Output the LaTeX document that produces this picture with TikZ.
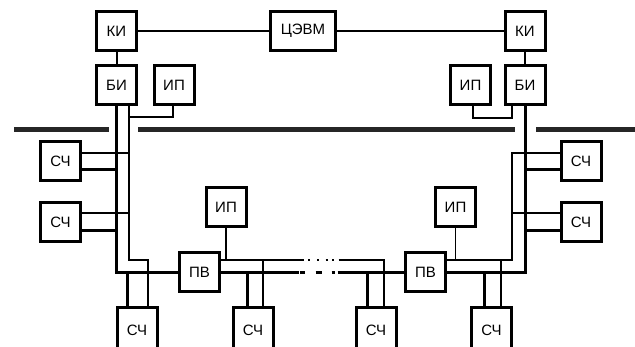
\documentclass[tikz,border=0pt]{standalone}
\usepackage{fontspec}
\setmainfont{Liberation Sans}
\usetikzlibrary{calc}
\begin{document}
\begin{tikzpicture}[x=1pt,y=-1pt,
 box/.style={draw,line width=3pt,inner sep=0pt,minimum width=40pt,minimum height=39pt,font=\fontsize{15}{15}\selectfont},
 cutbox/.style={box,minimum height=45pt},
 thickw/.style={line width=3pt},
 thinw/.style={line width=1.2pt},
 medw/.style={line width=2pt},
 sepline/.style={line width=5pt,black!85}]
\useasboundingbox (0,0) rectangle (635,347);
\clip (0,0) rectangle (635,347);
% nodes
\node[box] (ki1) at (116.5,31) {КИ};
\node[box,minimum width=65pt] (cevm) at (303,31) {ЦЭВМ};
\node[box] (ki2) at (525,31) {КИ};
\node[box] (bi1) at (116.5,85) {БИ};
\node[box] (ip1) at (174,85) {ИП};
\node[box] (ip2) at (470.5,85) {ИП};
\node[box] (bi2) at (525,85) {БИ};
\node[box] (sc1) at (60.5,161.5) {СЧ};
\node[box] (sc2) at (60.5,222) {СЧ};
\node[box] (sc3) at (581,161.5) {СЧ};
\node[box] (sc4) at (581,222) {СЧ};
\node[box] (ip3) at (226,207.5) {ИП};
\node[box] (ip4) at (455.5,207.5) {ИП};
\node[box] (pv1) at (199.5,272.5) {ПВ};
\node[box] (pv2) at (425.5,272.5) {ПВ};
\node[cutbox] (sc5) at (137,330) {СЧ};
\node[cutbox] (sc6) at (253,330) {СЧ};
\node[cutbox] (sc7) at (376,330) {СЧ};
\node[cutbox] (sc8) at (491.5,330) {СЧ};
% separators
\draw[sepline] (14,129.5) -- (109,129.5);
\draw[sepline] (138,129.5) -- (515,129.5);
\draw[sepline] (536,129.5) -- (635,129.5);
% coordinates
\coordinate (L1) at (129,260);
\coordinate (L2) at (148,260);
\coordinate (P1) at (173,117);
\coordinate (P1b) at (129,117);
\coordinate (s1t) at (129,153);
\coordinate (s1k) at (116.5,170);
\coordinate (s2t) at (129,213);
\coordinate (s2k) at (116.5,231);
\coordinate (s5k) at (127,272.5);
\coordinate (M1) at (384,260);
\coordinate (s6k) at (247,272.5);
\coordinate (s6t) at (263,260);
\coordinate (s7k) at (367,272.5);
\coordinate (R1) at (512,260);
\coordinate (R2) at (512,153);
\coordinate (s3k) at (525,170);
\coordinate (s4t) at (512,213);
\coordinate (s4k) at (525,231);
\coordinate (s8k) at (484,272.5);
\coordinate (s8t) at (501,260);
\coordinate (P2) at (473,118);
\coordinate (P2b) at (512,118);
% top connectors
\draw[medw] (ki1) -- (cevm);
\draw[medw] (cevm) -- (ki2);
\draw[medw] (ki1) -- (bi1);
\draw[medw] (ki2) -- (bi2);
% thick buses
\draw[thickw] (bi1.south) |- (pv1.west);
\draw[thickw] (bi2.south) |- (pv2.east);
\draw[thickw,dash pattern=on 77.5pt off 1pt on 5pt off 11pt on 6pt off 10pt on 3pt off 3pt on 200pt] (pv1.east) -- (pv2.west);
\draw[thickw] (sc1.east |- s1k) -- (s1k);
\draw[thickw] (sc2.east |- s2k) -- (s2k);
\draw[thickw] (sc3.west |- s3k) -- (s3k);
\draw[thickw] (sc4.west |- s4k) -- (s4k);
\draw[thickw] (s5k) -- (sc5.north -| s5k);
\draw[thickw] (s6k) -- (sc6.north -| s6k);
\draw[thickw] (s7k) -- (sc7.north -| s7k);
\draw[thickw] (s8k) -- (sc8.north -| s8k);
% thin buses
\draw[thinw] (bi1.south -| L1) -- (L1) -- (L2) -- (sc5.north -| L2);
\draw[thinw] (ip1.south -| P1) -- (P1) -- (P1b);
\draw[thinw] (sc1.east |- s1t) -- (s1t);
\draw[thinw] (sc2.east |- s2t) -- (s2t);
\draw[thinw,dash pattern=on 82.5pt off 4.7pt on 2pt off 7pt on 2pt off 6.3pt on 2pt off 4.7pt on 2pt off 4.3pt on 300pt] (pv1.east |- M1) -- (M1) -- (sc7.north -| M1);
\draw[thinw] (ip3.south) -- (ip3.south |- M1);
\draw[thinw] (s6t) -- (sc6.north -| s6t);
\draw[thinw] (pv2.east |- R1) -- (R1) -- (R2) -- (sc3.west |- R2);
\draw[thinw] (s4t) -- (sc4.west |- s4t);
\draw[thinw] (ip4.south) -- (ip4.south |- R1);
\draw[thinw] (s8t) -- (sc8.north -| s8t);
\draw[thinw] (ip2.south -| P2) -- (P2) -- (P2b) -- (bi2.south -| P2b);
\end{tikzpicture}
\end{document}
